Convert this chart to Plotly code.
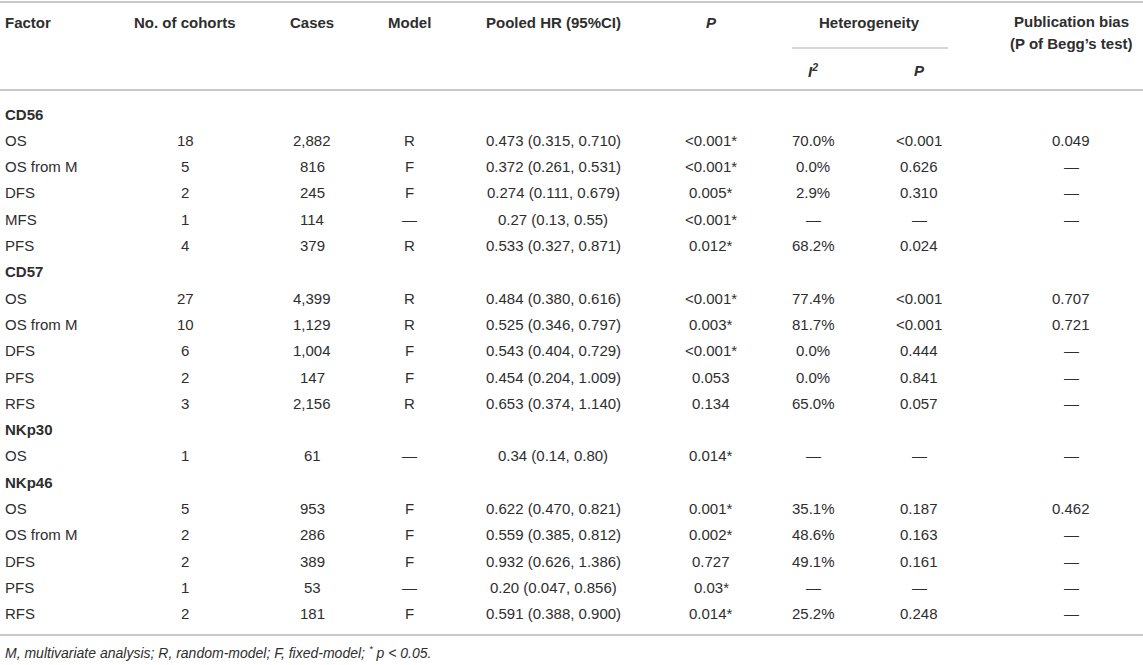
import plotly.graph_objects as go

# ---- table data ----
factor = ["CD56", "OS", "OS from M", "DFS", "MFS", "PFS",
          "CD57", "OS", "OS from M", "DFS", "PFS", "RFS",
          "NKp30", "OS",
          "NKp46", "OS", "OS from M", "DFS", "PFS", "RFS"]
is_group = [f in ("CD56", "CD57", "NKp30", "NKp46") for f in factor]
cohorts = ["", "18", "5", "2", "1", "4", "", "27", "10", "6", "2", "3", "", "1", "", "5", "2", "2", "1", "2"]
cases = ["", "2,882", "816", "245", "114", "379", "", "4,399", "1,129", "1,004", "147", "2,156",
         "", "61", "", "953", "286", "389", "53", "181"]
model = ["", "R", "F", "F", "—", "R", "", "R", "R", "F", "F", "R", "", "—", "", "F", "F", "F", "—", "F"]
pooled_hr = ["", "0.473 (0.315, 0.710)", "0.372 (0.261, 0.531)", "0.274 (0.111, 0.679)",
             "0.27 (0.13, 0.55)", "0.533 (0.327, 0.871)", "",
             "0.484 (0.380, 0.616)", "0.525 (0.346, 0.797)", "0.543 (0.404, 0.729)",
             "0.454 (0.204, 1.009)", "0.653 (0.374, 1.140)", "",
             "0.34 (0.14, 0.80)", "",
             "0.622 (0.470, 0.821)", "0.559 (0.385, 0.812)", "0.932 (0.626, 1.386)",
             "0.20 (0.047, 0.856)", "0.591 (0.388, 0.900)"]
p_value = ["", "<0.001*", "<0.001*", "0.005*", "<0.001*", "0.012*", "",
           "<0.001*", "0.003*", "<0.001*", "0.053", "0.134", "", "0.014*", "",
           "0.001*", "0.002*", "0.727", "0.03*", "0.014*"]
i2 = ["", "70.0%", "0.0%", "2.9%", "—", "68.2%", "", "77.4%", "81.7%", "0.0%", "0.0%", "65.0%",
      "", "—", "", "35.1%", "48.6%", "49.1%", "—", "25.2%"]
het_p = ["", "<0.001", "0.626", "0.310", "—", "0.024", "", "<0.001", "<0.001", "0.444", "0.841", "0.057",
         "", "—", "", "0.187", "0.163", "0.161", "—", "0.248"]
begg_p = ["", "0.049", "—", "—", "—", "", "", "0.707", "0.721", "—", "—", "—",
          "", "—", "", "0.462", "—", "—", "—", "—"]

footnote = "M, multivariate analysis; R, random-model; F, fixed-model; <sup>*</sup> p < 0.05."

# layout (pixel-like coordinates on hidden axes)
W, H = 1143, 665
FONT = "Liberation Sans, Arial, Helvetica, sans-serif"
TXT = "#2e2e2e"
LINE = "#c8c8c8"
FS = 15
col_x = [185, 312, 409, 553, 711, 813, 919, 1071]
row_y0, row_step = 114, 26.3


def esc(s):
    return s.replace("<", "&lt;").replace("&lt;sup>", "<sup>").replace("&lt;/sup>", "</sup>")


fig = go.Figure()
fig.add_trace(go.Scatter(x=[0, W], y=[0, H], mode="markers", marker=dict(opacity=0),
                         hoverinfo="skip", showlegend=False))


def txt(x, y, s, bold=False, italic=False, anchor="center", size=FS):
    if bold:
        s = "<b>" + s + "</b>"
    if italic:
        s = "<i>" + s + "</i>"
    fig.add_annotation(x=x, y=y, xref="x", yref="y", text=s, showarrow=False,
                       xanchor=anchor, yanchor="middle",
                       font=dict(family=FONT, size=size, color=TXT))


# header
txt(3, 22, "Factor", bold=True, anchor="left")
txt(col_x[0], 22, "No. of cohorts", bold=True)
txt(col_x[1], 22, "Cases", bold=True)
txt(col_x[2], 22, "Model", bold=True)
txt(col_x[3], 22, "Pooled HR (95%CI)", bold=True)
txt(col_x[4], 22, "P", bold=True, italic=True)
txt(869, 22, "Heterogeneity", bold=True)
txt(col_x[5], 70, "I<sup>2</sup>", bold=True, italic=True)
txt(col_x[6], 70, "P", bold=True, italic=True)
txt(col_x[7], 21, "Publication bias", bold=True)
txt(col_x[7], 43, "(P of Begg’s test)", bold=True)

# body
columns = [cohorts, cases, model, pooled_hr, p_value, i2, het_p, begg_p]
for i, name in enumerate(factor):
    y = row_y0 + i * row_step
    txt(3, y, name, bold=is_group[i], anchor="left")
    for cx, col in zip(col_x, columns):
        if col[i]:
            txt(cx, y, esc(col[i]))

txt(3, 652, esc(footnote), italic=True, anchor="left", size=14)

# rules
for y0, x0, x1, w in [(2, 0, W, 2), (48, 792, 948, 1.5), (90, 0, W, 2), (635, 0, W, 2)]:
    fig.add_shape(type="line", xref="x", yref="y", x0=x0, x1=x1, y0=y0, y1=y0,
                  line=dict(color=LINE, width=w))

fig.update_xaxes(range=[0, W], visible=False, fixedrange=True)
fig.update_yaxes(range=[H, 0], visible=False, fixedrange=True)
fig.update_layout(width=W, height=H, margin=dict(l=0, r=0, t=0, b=0),
                  plot_bgcolor="white", paper_bgcolor="white", showlegend=False)
# the page's default body margin would push the figure 8px down/right
fig.write_html("out.html", config={"displayModeBar": False},
               post_script="document.body.style.margin='0px';")
